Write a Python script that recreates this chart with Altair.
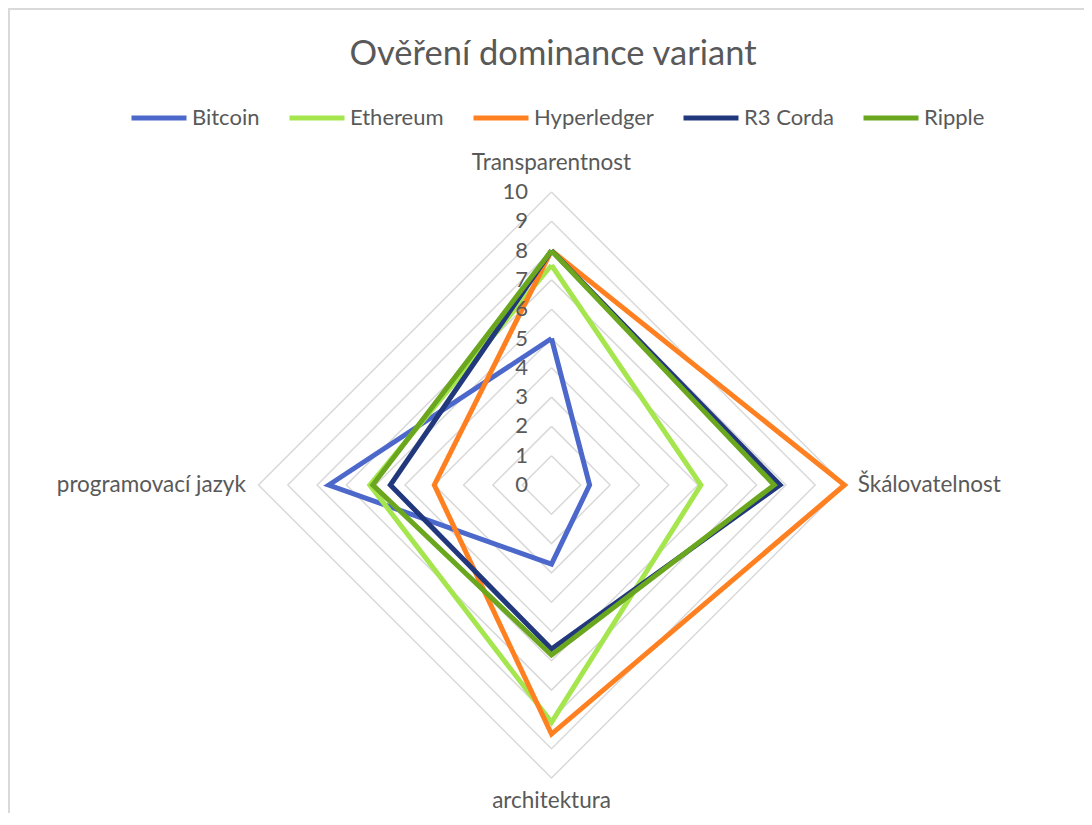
import altair as alt
import pandas as pd
import numpy as np

# ---- data ----
categories = ["Transparentnost", "Škálovatelnost", "architektura", "programovací jazyk"]
series = ["Bitcoin", "Ethereum", "Hyperledger", "R3 Corda", "Ripple"]
bitcoin = [5.0, 1.3, 2.7, 7.6]
ethereum = [7.5, 5.1, 8.1, 6.2]
hyperledger = [8.0, 10.0, 8.5, 4.0]
r3_corda = [8.0, 7.8, 5.6, 5.5]
ripple = [8.0, 7.6, 5.8, 6.1]
tick_values = list(range(0, 11))
grid_levels = list(range(1, 11))
colors = ["#4C68CB", "#A5E64E", "#FF8021", "#22387D", "#6AA61E"]

values = [bitcoin, ethereum, hyperledger, r3_corda, ripple]

# ---- layout constants ----
W, H = 1076, 805
CX, CY = 543.5, 477.0
UNIT = 29.3
xdom = [-CX / UNIT, (W - CX) / UNIT]
ydom = [-(H - CY) / UNIT, CY / UNIT]
FONT = "Lato"
TXT = "#595959"
GRID = "#D9D9D9"

n = len(categories)
angles = [2 * np.pi * i / n for i in range(n)]


def pt(r, a):
    return float(np.round(r * np.sin(a), 6)), float(np.round(r * np.cos(a), 6))


rows = []
for name, vals in zip(series, values):
    for k in range(n + 1):
        i = k % n
        x, y = pt(vals[i], angles[i])
        rows.append({"series": name, "order": k, "x": x, "y": y, "cat": categories[i], "value": vals[i]})
df = pd.DataFrame(rows)

grows = []
for lv in grid_levels:
    for k in range(n + 1):
        x, y = pt(lv, angles[k % n])
        grows.append({"level": lv, "order": k, "x": x, "y": y})
gdf = pd.DataFrame(grows)

tdf = pd.DataFrame({"t": tick_values, "x": [-0.8] * len(tick_values), "y": tick_values})

lab_r = [11.0, 10.45, 10.8, 10.43]
ldf = pd.DataFrame({
    "label": categories,
    "x": [pt(r, a)[0] for r, a in zip(lab_r, angles)],
    "y": [pt(r, a)[1] for r, a in zip(lab_r, angles)],
    "align": ["center", "left", "center", "right"],
})

xs = alt.Scale(domain=xdom, nice=False, zero=False)
ys = alt.Scale(domain=ydom, nice=False, zero=False)
X = alt.X("x:Q", scale=xs, axis=None)
Y = alt.Y("y:Q", scale=ys, axis=None)

grid = alt.Chart(gdf).mark_line(color=GRID, strokeWidth=1.5).encode(
    x=X, y=Y, detail="level:N", order="order:Q"
)

lines = alt.Chart(df).mark_line(strokeWidth=5, strokeJoin="miter").encode(
    x=X, y=Y, order="order:Q",
    color=alt.Color(
        "series:N",
        scale=alt.Scale(domain=series, range=colors),
        legend=alt.Legend(
            orient="none", legendX=121, legendY=80, direction="horizontal",
            title=None, symbolType="stroke", symbolSize=3025, symbolStrokeWidth=5,
            labelFont=FONT, labelFontSize=22, labelColor=TXT, labelOffset=3,
            columnPadding=19, labelLimit=300,
        ),
    ),
)

ticks = alt.Chart(tdf).mark_text(align="right", baseline="middle", font=FONT, fontSize=22, color=TXT).encode(
    x=X, y=Y, text="t:Q"
)

LFS = 22.5
lab_c = alt.Chart(ldf).transform_filter(alt.datum.align == "center").mark_text(
    align="center", baseline="middle", font=FONT, fontSize=LFS, color=TXT).encode(x=X, y=Y, text="label:N")
lab_l = alt.Chart(ldf).transform_filter(alt.datum.align == "left").mark_text(
    align="left", baseline="middle", font=FONT, fontSize=LFS, color=TXT).encode(x=X, y=Y, text="label:N")
lab_r_ = alt.Chart(ldf).transform_filter(alt.datum.align == "right").mark_text(
    align="right", baseline="middle", font=FONT, fontSize=LFS, color=TXT).encode(x=X, y=Y, text="label:N")

border_top = alt.Chart(tdf).mark_rule(color=GRID, strokeWidth=1.5).encode(
    x=alt.value(0), x2=alt.value(W), y=alt.value(1)
)
border_left = alt.Chart(tdf).mark_rule(color=GRID, strokeWidth=1.5).encode(
    x=alt.value(1), y=alt.value(0), y2=alt.value(H)
)

chart = alt.layer(border_top, border_left, grid, lines, ticks, lab_c, lab_l, lab_r_).properties(
    width=W, height=H,
    autosize=alt.AutoSizeParams(type="none"),
    padding=0,
    title=alt.Title(
        "Ověření dominance variant", font=FONT, fontSize=34.5, fontWeight="normal",
        color=TXT, anchor="middle", offset=0, dy=92, dx=7, baseline="alphabetic",
    ),
).configure_view(stroke=None)

chart.save("out.html", embed_options={"renderer": "svg", "actions": False})
